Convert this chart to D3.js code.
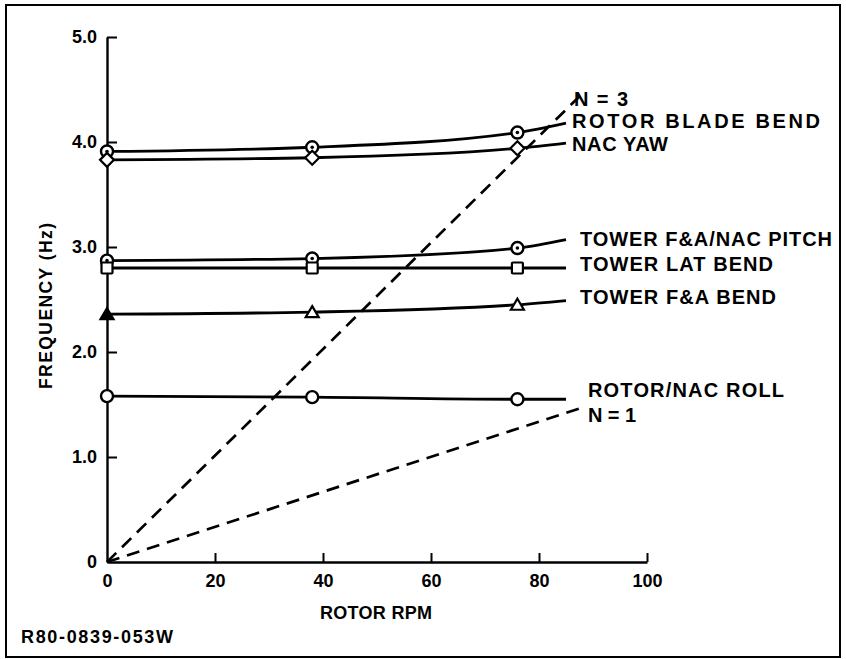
<!DOCTYPE html>
<html>
<head>
<meta charset="utf-8">
<script src="https://cdn.jsdelivr.net/npm/d3@7"></script>
<style>
  html, body { margin: 0; padding: 0; background: #fff; }
  svg { display: block; }
  text { font-family: "Liberation Sans", Arial, Helvetica, sans-serif; fill: #000; }
</style>
</head>
<body>
<svg id="chart" width="846" height="659"></svg>
<script>
// Rotor speed (rpm) at which each frequency was computed
const rpm = [0, 38, 76, 85];
// Natural frequencies (Hz) for each mode
const rotorBladeBend = [3.91, 3.95, 4.09, 4.18];
const nacYaw         = [3.83, 3.85, 3.94, 3.99];
const towerFaNacPitch = [2.87, 2.89, 2.99, 3.07];
const towerLatBend   = [2.80, 2.80, 2.80, 2.80];
const towerFaBend    = [2.36, 2.38, 2.45, 2.49];
const rotorNacRoll   = [1.58, 1.57, 1.55, 1.55];
// Excitation lines N = 1 and N = 3 (per-rev), from the origin
const perRevRpm = [0, 88];
const perRev1 = [0, 1.47];
const perRev3 = [0, 4.46];
// Axis ticks
const xTicks = [0, 20, 40, 60, 80, 100];
const yTicks = [0, 1, 2, 3, 4, 5];
const yTickLabels = ["0", "1.0", "2.0", "3.0", "4.0", "5.0"];
// Mode names
const modeNames = ["ROTOR BLADE BEND", "NAC YAW", "TOWER F&A/NAC PITCH",
                   "TOWER LAT BEND", "TOWER F&A BEND", "ROTOR/NAC ROLL"];
const perRevNames = ["N = 3", "N = 1"];

const svg = d3.select("#chart");

// outer frame
svg.append("rect")
  .attr("x", 6).attr("y", 5).attr("width", 834).attr("height", 652)
  .attr("fill", "none").attr("stroke", "#000").attr("stroke-width", 2);

const x = d3.scaleLinear().domain([0, 100]).range([107, 647]);
const y = d3.scaleLinear().domain([0, 5]).range([562, 37]);

// axes
const yAxis = d3.axisLeft(y).tickValues(yTicks)
  .tickFormat((d, i) => yTickLabels[i]).tickSizeInner(-10).tickSizeOuter(0).tickPadding(10);
const xAxis = d3.axisBottom(x).tickValues(xTicks)
  .tickFormat(d3.format("d")).tickSizeInner(-9).tickSizeOuter(0).tickPadding(12);

const gy = svg.append("g").attr("transform", `translate(${x(0)},0)`).call(yAxis);
const gx = svg.append("g").attr("transform", `translate(0,${y(0)})`).call(xAxis);
[gx, gy].forEach(g => {
  g.select(".domain").attr("stroke", "#000").attr("stroke-width", 2.4);
  g.selectAll(".tick line").attr("stroke", "#000").attr("stroke-width", 2);
  g.selectAll(".tick text")
    .style("font-family", '"Liberation Sans", Arial, sans-serif')
    .style("font-weight", "bold").style("font-size", "18px").attr("fill", "#000");
});
gy.selectAll(".tick").filter(d => d === 0).select("line").remove();
gx.selectAll(".tick").filter(d => d === 0).select("line").remove();

// axis titles
svg.append("text")
  .attr("x", 376).attr("y", 619).attr("text-anchor", "middle")
  .style("font-weight", "bold").style("font-size", "18px")
  .attr("textLength", 112).attr("lengthAdjust", "spacing")
  .text("ROTOR RPM");
svg.append("text")
  .attr("transform", "translate(52,306) rotate(-90)").attr("text-anchor", "middle")
  .style("font-weight", "bold").style("font-size", "17.5px")
  .attr("textLength", 166).attr("lengthAdjust", "spacing")
  .text("FREQUENCY (Hz)");

// figure number
svg.append("text")
  .attr("x", 21).attr("y", 643)
  .style("font-size", "18px").style("font-weight", "bold")
  .attr("textLength", 152).attr("lengthAdjust", "spacing")
  .text("R80-0839-053W");

// per-rev excitation lines
const dashLine = d3.line().x(d => x(d[0])).y(d => y(d[1]));
[perRev3, perRev1].forEach(vals => {
  svg.append("path")
    .attr("d", dashLine(perRevRpm.map((r, i) => [r, vals[i]])))
    .attr("fill", "none").attr("stroke", "#000")
    .attr("stroke-width", 2.7).attr("stroke-dasharray", "13,8");
});

// mode curves
const modes = [
  { vals: rotorBladeBend, marker: "dotCircle" },
  { vals: nacYaw, marker: "diamond" },
  { vals: towerFaNacPitch, marker: "dotCircle" },
  { vals: towerLatBend, marker: "square" },
  { vals: towerFaBend, marker: "triangle" },
  { vals: rotorNacRoll, marker: "circle" }
];
const curve = d3.line().x(d => x(d[0])).y(d => y(d[1])).curve(d3.curveMonotoneX);

modes.forEach(m => {
  const pts = rpm.map((r, i) => [r, m.vals[i]]);
  svg.append("path").attr("d", curve(pts))
    .attr("fill", "none").attr("stroke", "#000").attr("stroke-width", 2.8);
  // markers at the computed speeds (the last point is the curve end only)
  pts.slice(0, 3).forEach(p => {
    const cx = x(p[0]), cy = y(p[1]);
    const g = svg.append("g").attr("transform", `translate(${cx},${cy})`);
    const filled = p[0] === 0 && m.marker === "triangle";
    const fill = filled ? "#000" : "#fff";
    if (m.marker === "circle" || m.marker === "dotCircle") {
      g.append("circle").attr("r", 6).attr("fill", fill)
        .attr("stroke", "#000").attr("stroke-width", 2.4);
      if (m.marker === "dotCircle") g.append("circle").attr("r", 1.8).attr("fill", "#000");
    } else if (m.marker === "diamond") {
      g.append("path").attr("d", "M0,-7L7,0L0,7L-7,0Z").attr("fill", fill)
        .attr("stroke", "#000").attr("stroke-width", 2.2);
    } else if (m.marker === "square") {
      g.append("rect").attr("x", -5.5).attr("y", -5.5).attr("width", 11).attr("height", 11)
        .attr("rx", 1).attr("fill", fill).attr("stroke", "#000").attr("stroke-width", 2.2);
    } else if (m.marker === "triangle") {
      g.append("path").attr("d", "M0,-6L6.5,5L-6.5,5Z").attr("fill", fill)
        .attr("stroke", "#000").attr("stroke-width", 2.2);
    }
  });
});

// right-hand labels
const labelLayout = [
  { text: perRevNames[0], x: 574, y: 99, w: 54 },
  { text: modeNames[0], x: 572, y: 121, w: 248 },
  { text: modeNames[1], x: 572, y: 144, w: 96 },
  { text: modeNames[2], x: 580, y: 239, w: 252 },
  { text: modeNames[3], x: 580, y: 264, w: 193 },
  { text: modeNames[4], x: 580, y: 297, w: 196 },
  { text: modeNames[5], x: 588, y: 390, w: 196 },
  { text: perRevNames[1], x: 588, y: 415, w: 48 }
];
labelLayout.forEach(l => {
  svg.append("text")
    .attr("x", l.x).attr("y", l.y).attr("dy", "0.36em")
    .style("font-weight", "bold").style("font-size", "20px")
    .attr("textLength", l.w).attr("lengthAdjust", "spacing")
    .text(l.text);
});
</script>
</body>
</html>
